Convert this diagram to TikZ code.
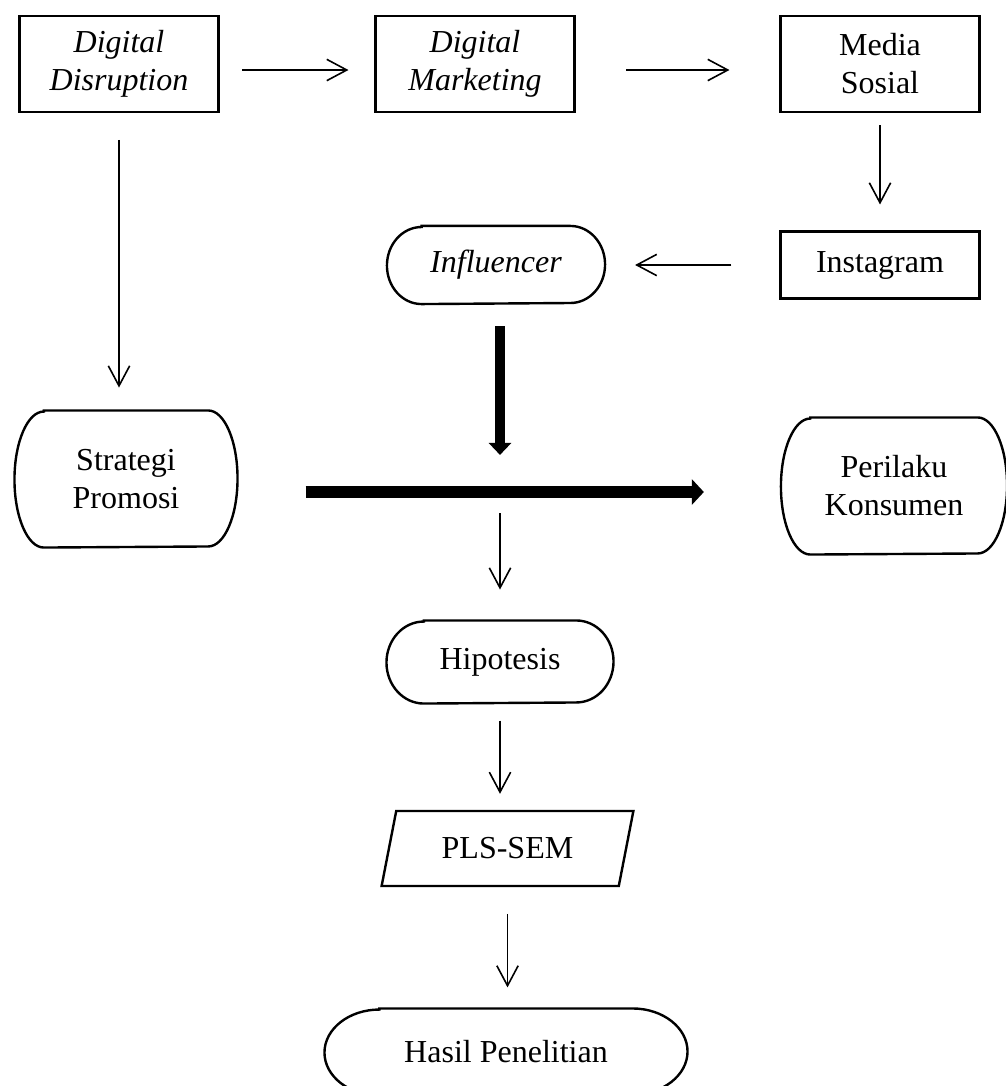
\documentclass[tikz,border=0pt]{standalone}
\usepackage{fontspec}
\setmainfont{Liberation Serif}
\usetikzlibrary{arrows.meta,shapes.geometric}

\tikzset{
  kotak/.style={draw, line width=0.9pt, minimum width=74.5pt, minimum height=36pt},
  ujung/.style={inner sep=0pt},
  panah/.style={line width=0.6pt, -{Straight Barb[length=7.5pt,width=8pt]}},
  tebal/.style={line width=3.4pt, -{Triangle[length=4.5pt,width=8.25pt]}},
  tebalh/.style={line width=4.5pt, -{Triangle[length=4.5pt,width=9.4pt]}}
}

% garis tepi bulat (ujung elips) di sekeliling node
\newcommand{\kapsul}[3]{%
  \draw[line width=0.9pt] ([xshift=#2]#1.north west) -- ([xshift=-#2]#1.north east)
    arc[start angle=90, end angle=-90, x radius=#2, y radius=#3]
    -- ([xshift=#2]#1.south west)
    arc[start angle=270, end angle=90, x radius=#2, y radius=#3] -- cycle;}

\begin{document}
\begin{tikzpicture}[x=0.375pt, y=-0.375pt,
    every node/.style={font=\fontsize{12}{14.25}\selectfont, align=center}]
  \useasboundingbox (0,0) rectangle (1006,1086);

  % baris atas
  \node[kotak] (disr) at (119,64) {\textit{Digital}\\\textit{Disruption}};
  \node[kotak] (mark) at (475,64) {\textit{Digital}\\\textit{Marketing}};
  \node[kotak] (medsos) at (880,64) {Media\\Sosial};
  \node[kotak, minimum height=25pt] (insta) at (880,265) {Instagram};

  \node[ujung, minimum width=81.4pt, minimum height=28.9pt] (infl) at (496,265) {\textit{Influencer}};
  \kapsul{infl}{13pt}{14.45pt}

  % variabel
  \node[ujung, minimum width=83.25pt, minimum height=51pt] (strat) at (126,479) {Strategi\\Promosi};
  \kapsul{strat}{11pt}{25.5pt}
  \node[ujung, minimum width=84.4pt, minimum height=51pt] (peri) at (894,486) {Perilaku\\Konsumen};
  \kapsul{peri}{11pt}{25.5pt}

  % alur bawah
  \node[ujung, minimum width=84.75pt, minimum height=30.75pt] (hipo) at (500,662) {Hipotesis};
  \kapsul{hipo}{14pt}{15.375pt}
  \node[draw, line width=0.9pt, trapezium, trapezium left angle=76, trapezium right angle=104,
        trapezium stretches=true, minimum width=94.9pt, minimum height=28.1pt] (pls) at (507.5,848.5) {PLS-SEM};
  \node[ujung, minimum width=135.75pt, minimum height=32.25pt] (hasil) at (506,1052) {Hasil Penelitian};
  \kapsul{hasil}{20.6pt}{16.125pt}

  \coordinate (temu) at (500,492);

  % panah
  \draw[panah, shorten <=8.6pt, shorten >=9.75pt] ([yshift=-2.25pt]disr.east) -- ([yshift=-2.25pt]mark.west);
  \draw[panah, shorten <=19pt, shorten >=18.75pt] ([yshift=-2.25pt]mark.east) -- ([yshift=-2.25pt]medsos.west);
  \draw[panah, shorten <=4.5pt, shorten >=9.75pt] (medsos) -- (insta);
  \draw[panah, shorten <=18pt, shorten >=11.25pt] (insta) -- (infl);
  \draw[panah, shorten <=10pt, shorten >=8.6pt] (disr.south) -- (disr.south |- strat.north);
  \draw[tebal, shorten <=8.25pt, shorten >=13.9pt] (infl.south -| temu) -- (temu);
  \draw[tebalh, shorten <=25.5pt, shorten >=28.9pt] (strat.east |- temu) -- (peri.west |- temu);
  \draw[panah, shorten <=7.9pt, shorten >=11.6pt] (temu) -- (hipo.north);
  \draw[panah, shorten <=6.4pt, shorten >=6pt] (hipo.south) -- (hipo.south |- pls.north);
  \draw[panah, shorten <=10pt, shorten >=7.9pt] (pls.south) -- (pls.south |- hasil.north);
\end{tikzpicture}
\end{document}
